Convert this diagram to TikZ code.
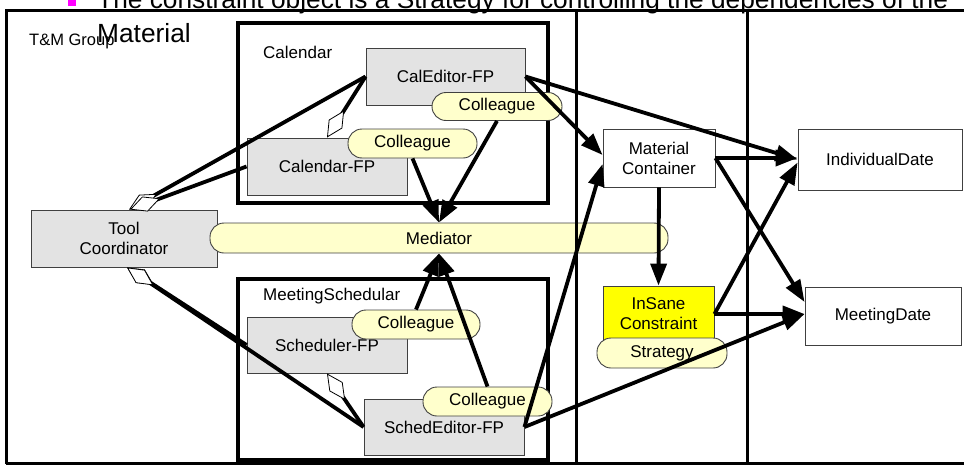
\documentclass[tikz,border=0pt]{standalone}
\usepackage{fontspec}
\setmainfont{Liberation Sans}
\usetikzlibrary{arrows.meta,calc}

\definecolor{fpgray}{HTML}{E3E3E3}
\definecolor{roleyellow}{HTML}{FFFFCC}
\definecolor{strongyellow}{HTML}{FFFF00}
\definecolor{edgegray}{HTML}{404040}
\definecolor{bulletpink}{HTML}{FF00FF}

\tikzset{
  lbl/.style={inner sep=0pt, font=\fontsize{17}{20}\selectfont},
  headline/.style={inner sep=0pt, anchor=base west, font=\fontsize{26.3}{33}\selectfont},
  boxbase/.style={draw=edgegray, line width=0.9pt, inner sep=0pt, align=center,
    font=\fontsize{17}{20}\selectfont},
  fpbox/.style={boxbase, fill=fpgray},
  plainbox/.style={boxbase, fill=white},
  hotbox/.style={boxbase, fill=strongyellow},
  rolebox/.style={boxbase, fill=roleyellow, rounded corners=14pt},
  groupbox/.style={draw=black, line width=3.4pt, inner sep=0pt},
  frameline/.style={draw=black, line width=3pt},
  conn/.style={draw=black, line width=3.8pt},
  arr/.style={-{Triangle[length=22pt,width=16pt]}},
  agg/.style={{Diamond[length=32pt,width=16pt,fill=white,line width=0.8pt]}-},
}

\begin{document}
\begin{tikzpicture}[x=1pt,y=-1pt]
  \useasboundingbox (0,0) rectangle (964,466);
  \clip (0,0) rectangle (964,466);

  % slide text above the frame
  \node[fill=bulletpink, minimum size=7.5pt, inner sep=0pt] (bullet) at (71.8,2) {};
  \node[headline] (hdA) at (97,8.5)
    {The constraint object is a Strategy for controlling the dependencies of the};
  \node[lbl, anchor=base west, font=\fontsize{16.5}{20}\selectfont] (tmname) at (29,45) {T\&M Group};
  \node[headline] (hdB) at (97,42) {Material};

  % component groups
  \node[groupbox, minimum width=310pt, minimum height=180pt] (calgrp) at (393,113) {};
  \node[lbl, anchor=base west] (calname) at (263,58) {Calendar};
  \node[groupbox, minimum width=310pt, minimum height=181pt] (msgrp) at (393,369.5) {};
  \node[lbl, anchor=base west] (msname) at (263,300) {MeetingSchedular};

  % tools and their roles
  \node[fpbox, minimum width=159pt, minimum height=57pt] (caled) at (445.5,76.5) {CalEditor-FP};
  \node[rolebox, minimum width=130pt, minimum height=28pt] (colB) at (497,106.5) {Colleague};
  \node[fpbox, minimum width=160pt, minimum height=57pt] (calfp) at (327,166.5) {Calendar-FP};
  \node[rolebox, minimum width=129pt, minimum height=29pt] (colA) at (412.5,143.5) {Colleague};
  \node[fpbox, minimum width=186pt, minimum height=57pt] (tc) at (124,238.5) {Tool\\Coordinator};
  \node[rolebox, minimum width=458pt, minimum height=30pt] (med) at (439,238) {Mediator};
  \node[fpbox, minimum width=160pt, minimum height=56pt] (schfp) at (327,345) {Scheduler-FP};
  \node[rolebox, minimum width=128pt, minimum height=29pt] (colC) at (416,324.5) {Colleague};
  \node[fpbox, minimum width=160pt, minimum height=56pt] (sched) at (444,427) {SchedEditor-FP};
  \node[rolebox, minimum width=129pt, minimum height=29pt] (colD) at (487.5,401.5) {Colleague};

  % materials
  \node[plainbox, minimum width=112pt, minimum height=58pt] (mc) at (659,158) {Material\\Container};
  \node[plainbox, minimum width=164pt, minimum height=61pt] (indiv) at (880,159.5) {IndividualDate};
  \node[plainbox, minimum width=156pt, minimum height=58pt] (md) at (883,316) {MeetingDate};
  \node[hotbox, minimum width=111pt, minimum height=56pt] (ins) at (658.5,314) {InSane\\Constraint};
  \node[rolebox, minimum width=130pt, minimum height=30pt] (strat) at (662,353) {Strategy};

  % frame lines
  \draw[frameline] (6,464) -- (6,10) -- (964,10);
  \draw[frameline] (6,463.5) -- (964,463.5);
  \draw[frameline] (576.5,10) -- (576.5,464);
  \draw[frameline] (747,10) -- (747,464);

  % aggregations
  \draw[conn, agg] ([xshift=5pt]tc.north) -- (caled.west);
  \draw[conn, agg] ([xshift=6pt]tc.north) -- (calfp.west);
  \draw[conn, agg] (calfp.north) -- (caled.west);
  \draw[conn, agg] ([xshift=3pt]tc.south) -- (schfp.west);
  \draw[conn, agg] ([xshift=3pt]tc.south) -- (sched.west);
  \draw[conn, agg] (schfp.south) -- (sched.west);

  % colleagues to mediator
  \draw[conn, arr] (colA.south) -- (med.north);
  \draw[conn, arr] (colB.south) -- (med.north);
  \draw[conn, arr] (colC.north) -- (med.south);
  \draw[conn, arr] (colD.north) -- (med.south);

  % tools to materials
  \draw[conn, arr] (caled.east) -- ($(mc.west)+(0,-3)$);
  \draw[conn, arr] (caled.east) -- (indiv.west);
  \draw[conn, arr] (sched.east) -- ($(mc.west)+(0,6)$);
  \draw[conn, arr] (sched.east) -- ($(md.west)+(0,-2)$);

  % material dependencies
  \draw[conn, arr] (mc.east) -- (mc.east -| indiv.west);
  \draw[conn, arr] (mc.east) -- ($(md.west)+(0,-14)$);
  \draw[conn, arr] (mc.south) -- (ins.north);
  \draw[conn, arr] (ins.east) -- ($(indiv.west)+(0,3)$);
  \draw[conn, arr] (ins.east) -- (ins.east -| md.west);
\end{tikzpicture}
\end{document}
